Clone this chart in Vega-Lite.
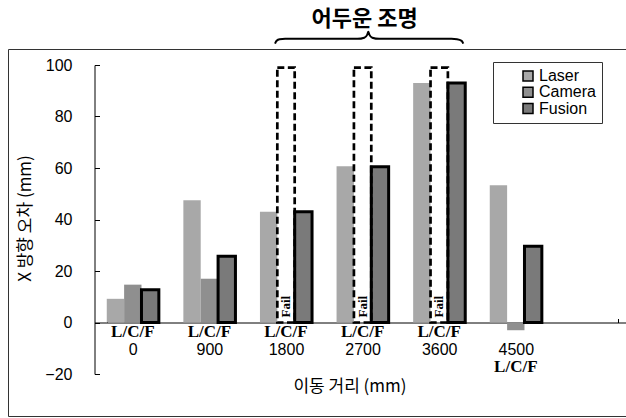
{
  "$schema": "https://vega.github.io/schema/vega-lite/v6.json",
  "width": 618,
  "height": 367,
  "autosize": {"type": "none"},
  "padding": {"left": 8, "top": 49, "right": 0, "bottom": 2},
  "background": "white",
  "config": {
    "view": {"stroke": "#333", "strokeWidth": 1},
    "font": "Liberation Sans"
  },
  "datasets": {
    "errors": [
      {"distance": "0", "sensor": "Laser", "error": 9.2, "status": "OK"},
      {"distance": "0", "sensor": "Camera", "error": 14.7, "status": "OK"},
      {"distance": "0", "sensor": "Fusion", "error": 12.7, "status": "OK"},
      {"distance": "900", "sensor": "Laser", "error": 47.5, "status": "OK"},
      {"distance": "900", "sensor": "Camera", "error": 17, "status": "OK"},
      {"distance": "900", "sensor": "Fusion", "error": 25.7, "status": "OK"},
      {"distance": "1800", "sensor": "Laser", "error": 43, "status": "OK"},
      {"distance": "1800", "sensor": "Camera", "error": null, "status": "Fail"},
      {"distance": "1800", "sensor": "Fusion", "error": 43, "status": "OK"},
      {"distance": "2700", "sensor": "Laser", "error": 60.7, "status": "OK"},
      {"distance": "2700", "sensor": "Camera", "error": null, "status": "Fail"},
      {"distance": "2700", "sensor": "Fusion", "error": 60.5, "status": "OK"},
      {"distance": "3600", "sensor": "Laser", "error": 93, "status": "OK"},
      {"distance": "3600", "sensor": "Camera", "error": null, "status": "Fail"},
      {"distance": "3600", "sensor": "Fusion", "error": 93, "status": "OK"},
      {"distance": "4500", "sensor": "Laser", "error": 53.3, "status": "OK"},
      {"distance": "4500", "sensor": "Camera", "error": -3, "status": "OK"},
      {"distance": "4500", "sensor": "Fusion", "error": 29.6, "status": "OK"}
    ],
    "brace": [
      {"distance_mm": 1671, "y": 108.3},
      {"distance_mm": 1690, "y": 109.4},
      {"distance_mm": 1725, "y": 110.0},
      {"distance_mm": 1790, "y": 110.15},
      {"distance_mm": 2640, "y": 110.15},
      {"distance_mm": 2720, "y": 110.6},
      {"distance_mm": 2755, "y": 111.8},
      {"distance_mm": 2767, "y": 112.9},
      {"distance_mm": 2779, "y": 111.8},
      {"distance_mm": 2814, "y": 110.6},
      {"distance_mm": 2894, "y": 110.15},
      {"distance_mm": 3744, "y": 110.15},
      {"distance_mm": 3809, "y": 110.0},
      {"distance_mm": 3864, "y": 109.4},
      {"distance_mm": 3883, "y": 108.3}
    ]
  },
  "resolve": {"scale": {"x": "independent"}, "axis": {"x": "independent"}},
  "layer": [
    {
      "data": {"name": "errors"},
      "layer": [
        {
          "transform": [{"filter": "datum.status === 'OK'"}],
          "mark": {"type": "bar", "stroke": "black"},
          "encoding": {
            "x": {
              "field": "distance",
              "type": "nominal",
              "sort": null,
              "scale": {
                "domain": ["0", "900", "1800", "2700", "3600", "4500", "5400"],
                "range": [86.5, 622.7],
                "paddingInner": 0.32,
                "paddingOuter": 0.16
              },
              "axis": {
                "orient": "bottom",
                "offset": -93.5,
                "domainColor": "#000",
                "domainWidth": 1,
                "tickBand": "extent",
                "tickSize": -4,
                "tickColor": "#000",
                "labelExpr": "datum.value == '5400' ? '' : datum.value",
                "labelFont": "Liberation Sans",
                "labelFontSize": 16,
                "labelColor": "#000",
                "labelPadding": 30.5,
                "labelBaseline": "middle",
                "labelAngle": 0,
                "title": "이동 거리 (mm)",
                "titleFont": "Noto Sans CJK KR",
                "titleFontSize": 17,
                "titleFontWeight": "normal",
                "titleColor": "#000",
                "titleX": 341.5,
                "titleY": 63.5,
                "titleBaseline": "middle",
                "titleAlign": "center"
              }
            },
            "xOffset": {
              "field": "sensor",
              "type": "nominal",
              "sort": ["Laser", "Camera", "Fusion"],
              "scale": {"domain": ["Laser", "Camera", "Fusion"], "paddingInner": 0, "paddingOuter": 0}
            },
            "y": {
              "field": "error",
              "type": "quantitative",
              "scale": {"domain": [-20, 100], "range": [325, 16], "nice": false, "zero": false},
              "axis": {
                "orient": "left",
                "offset": -86.5,
                "values": [-20, 0, 20, 40, 60, 80, 100],
                "grid": false,
                "domainColor": "#000",
                "tickColor": "#000",
                "tickSize": -5,
                "labelPadding": 27.5,
                "labelFont": "Liberation Sans",
                "labelFontSize": 16,
                "labelColor": "#000",
                "title": "X 방향 오차 (mm)",
                "titleFont": "Noto Sans CJK KR",
                "titleFontSize": 17,
                "titleFontWeight": "normal",
                "titleColor": "#000",
                "titleAngle": 270,
                "titleX": -69.5,
                "titleY": 169,
                "titleBaseline": "middle",
                "titleAlign": "center"
              }
            },
            "fill": {
              "field": "sensor",
              "type": "nominal",
              "sort": ["Laser", "Camera", "Fusion"],
              "scale": {"domain": ["Laser", "Camera", "Fusion"], "range": ["#a8a8a8", "#8f8f8f", "#7a7a7a"]},
              "legend": {
                "title": null,
                "orient": "none",
                "legendX": 485,
                "legendY": 13,
                "padding": 6,
                "fillColor": "white",
                "strokeColor": "#333",
                "symbolType": "square",
                "symbolSize": 100,
                "symbolOffset": 21,
                "labelOffset": 3,
                "rowPadding": 0.3,
                "labelFont": "Liberation Sans",
                "labelFontSize": 16,
                "labelColor": "#000",
                "labelExpr": "datum.label + '      '",
                "encode": {
                  "symbols": {
                    "update": {
                      "stroke": {"value": "black"},
                      "strokeWidth": {"signal": "datum.value === 'Fusion' ? 2.5 : 0"}
                    }
                  }
                }
              }
            },
            "strokeWidth": {
              "condition": {"test": "datum.sensor === 'Fusion'", "value": 3},
              "value": 0
            }
          }
        },
        {
          "transform": [{"filter": "datum.status === 'Fail'"}],
          "mark": {"type": "bar", "fill": "transparent", "stroke": "black", "strokeWidth": 2.7, "strokeDash": [7, 3.5]},
          "encoding": {
            "x": {"field": "distance", "type": "nominal"},
            "xOffset": {"field": "sensor", "type": "nominal"},
            "y": {"datum": 99, "type": "quantitative"},
            "y2": {"datum": 0}
          }
        },
        {
          "transform": [{"filter": "datum.status === 'Fail'"}],
          "mark": {"type": "text", "angle": 270, "align": "left", "baseline": "middle", "dx": 5, "font": "Liberation Serif", "fontWeight": "bold", "fontSize": 13, "color": "black"},
          "encoding": {
            "x": {"field": "distance", "type": "nominal"},
            "xOffset": {"field": "sensor", "type": "nominal"},
            "y": {"datum": 0, "type": "quantitative"},
            "text": {"field": "status"}
          }
        },
        {
          "transform": [{"filter": "datum.sensor === 'Laser' && datum.distance !== '4500'"}],
          "mark": {"type": "text", "baseline": "middle", "align": "center", "dy": 9, "font": "Liberation Serif", "fontWeight": "bold", "fontSize": 17, "color": "black"},
          "encoding": {
            "x": {"field": "distance", "type": "nominal"},
            "y": {"datum": 0, "type": "quantitative"},
            "text": {"value": "L/C/F"}
          }
        },
        {
          "transform": [{"filter": "datum.sensor === 'Laser' && datum.distance === '4500'"}],
          "mark": {"type": "text", "baseline": "middle", "align": "center", "dy": 44, "font": "Liberation Serif", "fontWeight": "bold", "fontSize": 17, "color": "black"},
          "encoding": {
            "x": {"field": "distance", "type": "nominal"},
            "y": {"datum": 0, "type": "quantitative"},
            "text": {"value": "L/C/F"}
          }
        },
        {
          "transform": [{"filter": "datum.sensor === 'Laser' && datum.distance === '2700'"}],
          "mark": {"type": "text", "baseline": "middle", "align": "center", "dx": 2, "font": "Noto Sans CJK KR", "fontWeight": "bold", "fontSize": 22, "color": "black"},
          "encoding": {
            "x": {"field": "distance", "type": "nominal"},
            "y": {"datum": 118, "type": "quantitative"},
            "text": {"value": "어두운 조명"}
          }
        }
      ]
    },
    {
      "data": {"name": "brace"},
      "mark": {"type": "line", "color": "black", "strokeWidth": 2, "interpolate": "monotone"},
      "encoding": {
        "x": {
          "field": "distance_mm",
          "type": "quantitative",
          "scale": {"domain": [0, 4500], "range": [124.8, 507.8], "zero": false, "nice": false},
          "axis": null
        },
        "y": {
          "field": "y",
          "type": "quantitative",
          "scale": {"domain": [-20, 100], "range": [325, 16], "nice": false, "zero": false}
        }
      }
    }
  ]
}
